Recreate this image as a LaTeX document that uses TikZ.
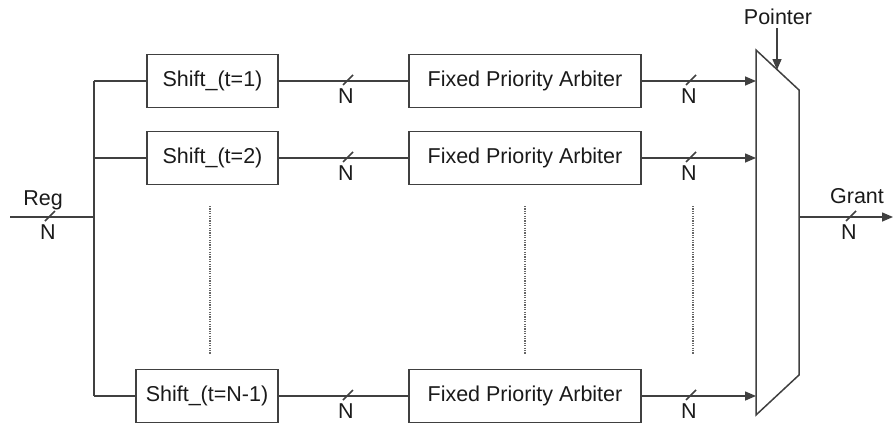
\documentclass[tikz,border=0pt]{standalone}
\usepackage{fontspec}
\setmainfont{Liberation Sans}
\usetikzlibrary{arrows.meta}
\definecolor{wire}{HTML}{404040}
\definecolor{ink}{HTML}{1A1A1A}
\tikzset{
  wireline/.style={draw=wire, line width=1.5pt},
  blockbox/.style={draw=wire, line width=1.5pt, rectangle, minimum height=53pt,
    inner sep=0pt, text=ink, font=\fontsize{21.5}{24}\selectfont},
  arr/.style={wireline, -{Triangle[length=11pt,width=9pt]}},
  lbl/.style={text=ink, font=\fontsize{21.5}{24}\selectfont, inner sep=0pt},
  dots/.style={draw=wire!80, line width=1.5pt, dash pattern=on 1.2pt off 1.2pt},
}
% bus-width mark: a short slash across the wire with the width "N" below it
\newcommand\buswidth[3]{%
  \draw[wireline] (#2-5,#3+4) -- (#2+5,#3-6);
  \node[lbl] (#1) at (#2-2,#3+15) {N};}
\begin{document}
\begin{tikzpicture}[x=1pt,y=-1pt]
\useasboundingbox (0,0) rectangle (894,423);

% shift stages
\node[blockbox, minimum width=131pt] (s1) at (212.5,81) {Shift\_(t=1)};
\node[blockbox, minimum width=131pt] (s2) at (212.5,158) {Shift\_(t=2)};
\node[blockbox, minimum width=142pt] (s3) at (207,396) {Shift\_(t=N-1)};

% fixed priority arbiters
\node[blockbox, minimum width=232pt] (f1) at (525,81) {Fixed Priority Arbiter};
\node[blockbox, minimum width=232pt] (f2) at (525,158) {Fixed Priority Arbiter};
\node[blockbox, minimum width=232pt] (f3) at (525,396) {Fixed Priority Arbiter};

% output multiplexer
\coordinate (mTL) at (756,50);
\coordinate (mTR) at (799,90);
\coordinate (mBR) at (799,375);
\coordinate (mBL) at (756,415);
\draw[wireline, line join=miter] (mTL) -- (mTR) -- (mBR) -- (mBL) -- cycle;

% input request bus
\coordinate (regin) at (10,217);
\coordinate (busT) at (94,81);
\coordinate (busB) at (94,396);
\coordinate (busM) at (94,217);
\node[lbl] (reg) at (43,200) {Reg};
\draw[wireline] (regin) -- (busM);
\draw[wireline] (busT) -- (busB);
\draw[wireline] (busT) -- (s1.west);
\draw[wireline] (s2.west -| busT) -- (s2.west);
\draw[wireline] (busB) -- (s3.west);
\buswidth{nreg}{50}{217}

% shift -> arbiter
\draw[wireline] (s1.east) -- (f1.west);
\draw[wireline] (s2.east) -- (f2.west);
\draw[wireline] (s3.east) -- (f3.west);
\buswidth{na1}{348}{81}
\buswidth{na2}{348}{158}
\buswidth{na3}{348}{396}

% arbiter -> multiplexer
\draw[arr] (f1.east) -- (f1.east -| mTL);
\draw[arr] (f2.east) -- (f2.east -| mTL);
\draw[arr] (f3.east) -- (f3.east -| mTL);
\buswidth{nb1}{691}{81}
\buswidth{nb2}{691}{158}
\buswidth{nb3}{691}{396}

% pointer select input
\node[lbl] (ptr) at (778,17) {Pointer};
\coordinate (ptrtip) at (777,70);
\draw[arr] (ptr.south -| ptrtip) ++(0,3) -- (ptrtip);

% grant output
\coordinate (gout) at (893,217);
\node[lbl] (grant) at (857,196) {Grant};
\draw[arr] (799,217) -- (gout);
\buswidth{ng}{851}{217}

% omitted stages
\draw[dots] (210,206) -- (210,354);
\draw[dots] (525,206) -- (525,354);
\draw[dots] (693,206) -- (693,354);
\end{tikzpicture}
\end{document}
